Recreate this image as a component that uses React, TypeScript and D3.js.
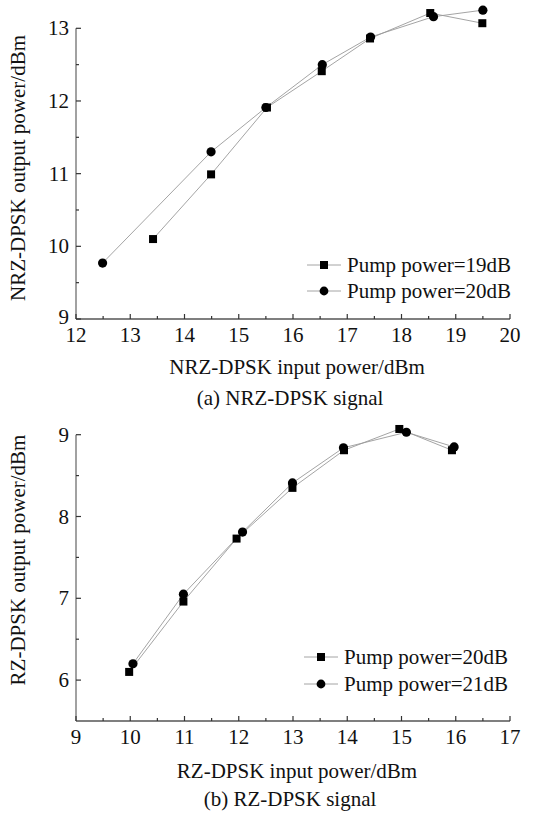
import React from "react";
import * as d3 from "d3";

// ---- Data ----
const nrzPump19X = [13.42, 14.49, 15.52, 16.53, 17.42, 18.53, 19.49];
const nrzPump19Y = [10.1, 10.99, 11.91, 12.41, 12.86, 13.21, 13.07];
const nrzPump20X = [12.49, 14.49, 15.5, 16.54, 17.43, 18.59, 19.5];
const nrzPump20Y = [9.77, 11.3, 11.91, 12.5, 12.88, 13.16, 13.25];

const rzPump20X = [9.98, 10.98, 11.96, 12.99, 13.94, 14.96, 15.93];
const rzPump20Y = [6.1, 6.96, 7.73, 8.35, 8.81, 9.07, 8.81];
const rzPump21X = [10.05, 10.98, 12.07, 12.99, 13.93, 15.09, 15.97];
const rzPump21Y = [6.2, 7.05, 7.81, 8.41, 8.84, 9.03, 8.85];

const nrzXTicks = [12, 13, 14, 15, 16, 17, 18, 19, 20];
const nrzYTicks = [9, 10, 11, 12, 13];
const rzXTicks = [9, 10, 11, 12, 13, 14, 15, 16, 17];
const rzYTicks = [6, 7, 8, 9];

const nrzLegend = ["Pump power=19dB", "Pump power=20dB"];
const rzLegend = ["Pump power=20dB", "Pump power=21dB"];

const FONT = "Liberation Serif, DejaVu Serif, Noto Serif, Times New Roman, serif";
const txt = { fontFamily: FONT, fontSize: "21px" } as React.CSSProperties;

type PanelProps = {
  xDomain: [number, number];
  yDomain: [number, number];
  yRange: [number, number];
  xTicks: number[];
  yTicks: number[];
  seriesA: { x: number[]; y: number[] };
  seriesB: { x: number[]; y: number[] };
  legend: string[];
  legendX: number;
  legendY: number[];
  xLabel: string;
  yLabel: string;
  caption: string;
  xLabelY: number;
  captionY: number;
  captionX: number;
  yLabelCenter: number;
};

function Panel(p: PanelProps) {
  const x = d3.scaleLinear().domain(p.xDomain).range([76, 510]);
  const y = d3.scaleLinear().domain(p.yDomain).range(p.yRange);
  const line = d3
    .line<[number, number]>()
    .x((d) => x(d[0]))
    .y((d) => y(d[1]));
  const ptsA: [number, number][] = p.seriesA.x.map((v, i) => [v, p.seriesA.y[i]]);
  const ptsB: [number, number][] = p.seriesB.x.map((v, i) => [v, p.seriesB.y[i]]);

  const xMinor = d3.range(p.xDomain[0] + 0.5, p.xDomain[1], 1);
  const yMinor = d3
    .range(Math.ceil(p.yDomain[0] * 2) / 2, p.yDomain[1], 0.5)
    .filter((v) => !Number.isInteger(v) && v > p.yDomain[0]);
  const x0 = x(p.xDomain[0]);
  const yBase = y(p.yDomain[0]);
  const yTop = y(p.yDomain[1]);
  const sq = 8;

  return (
    <g>
      <path d={line(ptsA) || ""} fill="none" stroke="#9a9a9a" strokeWidth={0.9} />
      <path d={line(ptsB) || ""} fill="none" stroke="#9a9a9a" strokeWidth={0.9} />
      <line x1={x0} x2={x0} y1={yTop} y2={yBase} stroke="#8a8a8a" strokeWidth={1.6} />
      <line x1={x0} x2={x(p.xDomain[1])} y1={yBase} y2={yBase} stroke="#555" strokeWidth={1.6} />
      {p.xTicks.map((t) => (
        <line key={"xt" + t} x1={x(t)} x2={x(t)} y1={yBase} y2={yBase - 5} stroke="#333" strokeWidth={1.2} />
      ))}
      {xMinor.map((t) => (
        <line key={"xm" + t} x1={x(t)} x2={x(t)} y1={yBase} y2={yBase - 3} stroke="#333" strokeWidth={1.2} />
      ))}
      {p.yTicks.map((t) => (
        <line key={"yt" + t} x1={x0} x2={x0 + 5} y1={y(t)} y2={y(t)} stroke="#333" strokeWidth={1.2} />
      ))}
      {yMinor.map((t) => (
        <line key={"ym" + t} x1={x0} x2={x0 + 3} y1={y(t)} y2={y(t)} stroke="#333" strokeWidth={1.2} />
      ))}
      {p.xTicks.map((t) => (
        <text key={"xl" + t} x={x(t)} y={yBase + 23} textAnchor="middle" style={txt} fill="#111">
          {t}
        </text>
      ))}
      {p.yTicks.map((t) => (
        <text
          key={"yl" + t}
          x={69}
          y={y(t) + (t === p.yDomain[0] ? 5 : 7)}
          textAnchor="end"
          style={txt}
          fill="#111"
        >
          {t}
        </text>
      ))}
      {ptsA.map((d, i) => (
        <rect key={"a" + i} x={x(d[0]) - sq / 2} y={y(d[1]) - sq / 2} width={sq} height={sq} fill="#000" />
      ))}
      {ptsB.map((d, i) => (
        <circle key={"b" + i} cx={x(d[0])} cy={y(d[1])} r={4.6} fill="#000" />
      ))}
      {p.legend.map((lab, i) => (
        <g key={"lg" + i}>
          <line x1={p.legendX - 17} x2={p.legendX + 17} y1={p.legendY[i]} y2={p.legendY[i]} stroke="#9a9a9a" strokeWidth={0.9} />
          {i === 0 ? (
            <rect x={p.legendX - 4} y={p.legendY[i] - 4} width={8} height={8} fill="#000" />
          ) : (
            <circle cx={p.legendX} cy={p.legendY[i]} r={4.4} fill="#000" />
          )}
          <text x={p.legendX + 23} y={p.legendY[i] + 7} style={txt} fill="#111">
            {lab}
          </text>
        </g>
      ))}
      <text x={297} y={p.xLabelY} textAnchor="middle" style={txt} fill="#111">
        {p.xLabel}
      </text>
      <text transform={`translate(25, ${p.yLabelCenter}) rotate(-90)`} textAnchor="middle" style={txt} fill="#111">
        {p.yLabel}
      </text>
      <text x={p.captionX} y={p.captionY} textAnchor="middle" style={txt} fill="#111">
        {p.caption}
      </text>
    </g>
  );
}

export default function App() {
  return (
    <svg width={535} height={817} style={{ position: "absolute", left: 0, top: 0, background: "#fff" }}>
      <rect width={535} height={817} fill="#fff" />
      <Panel
        xDomain={[12, 20]}
        yDomain={[9, 13]}
        yRange={[319, 28.3]}
        xTicks={nrzXTicks}
        yTicks={nrzYTicks}
        seriesA={{ x: nrzPump19X, y: nrzPump19Y }}
        seriesB={{ x: nrzPump20X, y: nrzPump20Y }}
        legend={nrzLegend}
        legendX={324}
        legendY={[265, 291]}
        xLabel="NRZ-DPSK input power/dBm"
        yLabel="NRZ-DPSK output power/dBm"
        caption="(a) NRZ-DPSK signal"
        xLabelY={374}
        captionY={405}
        captionX={290}
        yLabelCenter={168}
      />
      <Panel
        xDomain={[9, 17]}
        yDomain={[5.5, 9]}
        yRange={[721, 434.7]}
        xTicks={rzXTicks}
        yTicks={rzYTicks}
        seriesA={{ x: rzPump20X, y: rzPump20Y }}
        seriesB={{ x: rzPump21X, y: rzPump21Y }}
        legend={rzLegend}
        legendX={321}
        legendY={[657, 684]}
        xLabel="RZ-DPSK input power/dBm"
        yLabel="RZ-DPSK output power/dBm"
        caption="(b) RZ-DPSK signal"
        xLabelY={778}
        captionY={806}
        captionX={290}
        yLabelCenter={560}
      />
    </svg>
  );
}
